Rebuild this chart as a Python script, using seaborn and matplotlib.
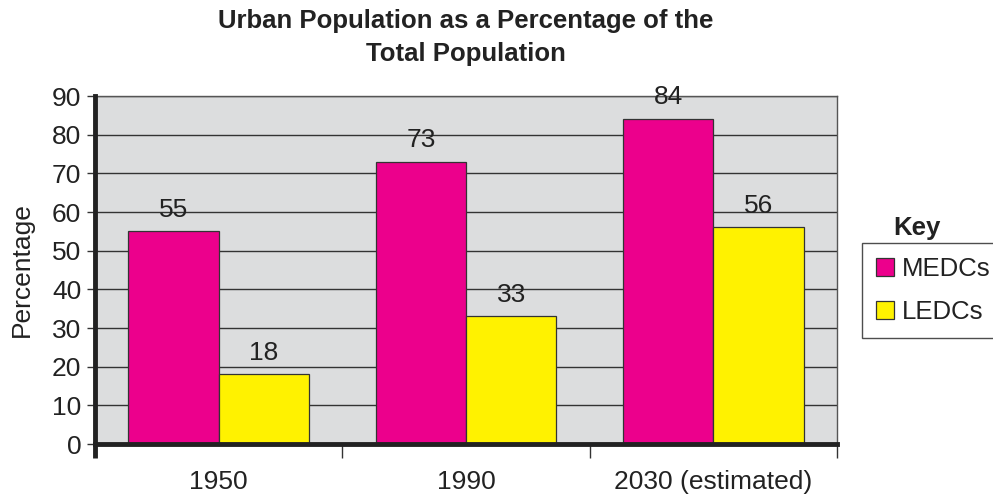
import matplotlib
matplotlib.use("Agg")
import matplotlib.pyplot as plt
import seaborn as sns
import pandas as pd
from matplotlib.patches import Patch

categories = ["1950", "1990", "2030 (estimated)"]
medcs = [55, 73, 84]
ledcs = [18, 33, 56]
series_names = ["MEDCs", "LEDCs"]
y_ticks = [0, 10, 20, 30, 40, 50, 60, 70, 80, 90]

colors = {"MEDCs": "#EC008C", "LEDCs": "#FFF200"}

df = pd.DataFrame({
    "Year": categories * 2,
    "Series": ["MEDCs"] * 3 + ["LEDCs"] * 3,
    "Value": medcs + ledcs,
})

sns.set_theme(style="white")
plt.rcParams["font.family"] = ["Liberation Sans", "DejaVu Sans"]

fig = plt.figure(figsize=(9.93, 4.97), dpi=100)
ax = fig.add_axes([0.0957, 0.1066, 0.7472, 0.7002])
ax.set_facecolor("#DCDDDE")

sns.barplot(data=df, x="Year", y="Value", hue="Series", hue_order=series_names,
            palette=colors, saturation=1, width=0.73, edgecolor="#333333",
            linewidth=0.9, ax=ax, legend=False, zorder=3)

ax.set_ylim(0, 90)
ax.set_xlim(-0.5, 2.5)
ax.set_yticks(y_ticks)
ax.yaxis.grid(True, color="#333333", linewidth=1.0, zorder=0)
ax.set_axisbelow(True)
ax.tick_params(axis="y", labelsize=19, length=6, width=1.0, color="#333333",
               left=True, pad=4, labelcolor="#222222")
ax.set_xticks(range(len(categories)))
ax.set_xticklabels(categories)
ax.tick_params(axis="x", which="major", length=0, labelsize=19, pad=19,
               labelcolor="#222222")
ax.set_xticks([0.5, 1.5, 2.5], minor=True)
ax.tick_params(axis="x", which="minor", length=10, width=1.0, color="#333333",
               bottom=True)
ax.set_xlabel("")
ax.set_ylabel("Percentage", fontsize=19, color="#222222", labelpad=13)

for side in ["top", "right"]:
    ax.spines[side].set_color("#555555")
    ax.spines[side].set_linewidth(1.0)
for side in ["left", "bottom"]:
    ax.spines[side].set_color("#222222")
    ax.spines[side].set_linewidth(3.5)
    ax.spines[side].set_zorder(5)

# left spine extension below zero
ax.plot([-0.5, -0.5], [0, -3.6], color="#222222", linewidth=3.5,
        clip_on=False, zorder=5, solid_capstyle="butt")

for container in ax.containers:
    ax.bar_label(container, fmt="%d", padding=7, fontsize=19, color="#222222")

ax.set_title("Urban Population as a Percentage of the\nTotal Population",
             fontsize=18.5, fontweight="bold", pad=25, color="#222222",
             linespacing=1.48)

handles = [Patch(facecolor=colors[s], edgecolor="#333333", linewidth=0.9)
           for s in series_names]
leg = fig.legend(handles, series_names, loc="upper left",
                 bbox_to_anchor=(0.868, 0.512), frameon=True, fancybox=False,
                 fontsize=18.5, handlelength=0.7, handleheight=0.7,
                 handletextpad=0.3, labelspacing=0.75, borderpad=0.55,
                 borderaxespad=0)
leg.get_frame().set_edgecolor("#222222")
leg.get_frame().set_linewidth(1.0)
for t in leg.get_texts():
    t.set_color("#222222")
fig.text(0.923, 0.542, "Key", fontsize=18.5, fontweight="bold",
         ha="center", va="center", color="#222222")

fig.savefig("out.png", dpi=100)
